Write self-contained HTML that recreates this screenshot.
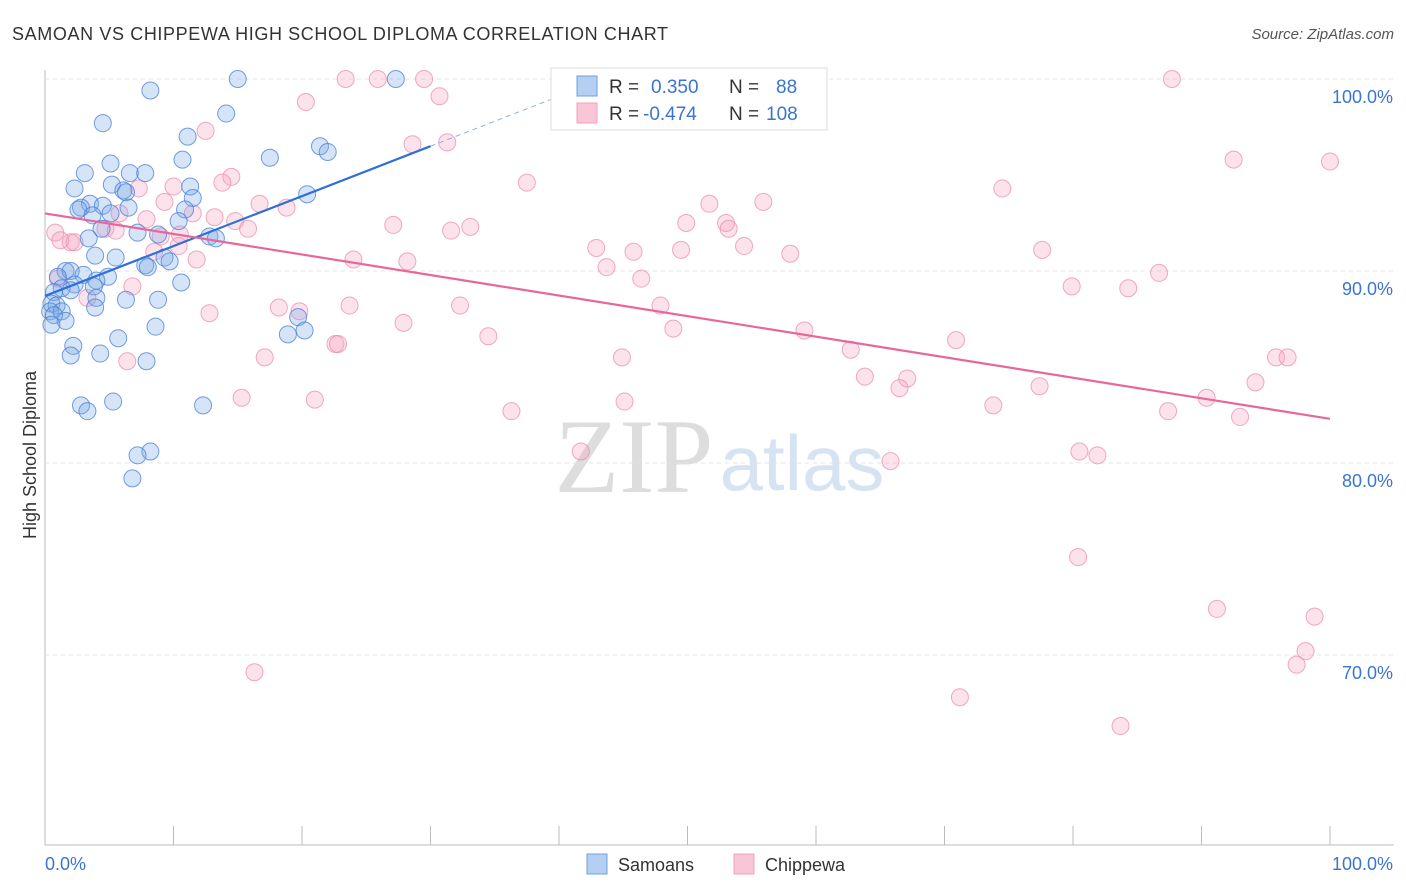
<!DOCTYPE html>
<html><head><meta charset="utf-8">
<style>
body{margin:0;background:#fff;font-family:"Liberation Sans",sans-serif;}
svg{display:block}
</style></head>
<body>
<svg id="chart" width="1406" height="892" xmlns="http://www.w3.org/2000/svg">
<text x="12" y="40" font-size="18" fill="#333" textLength="656" lengthAdjust="spacing">SAMOAN VS CHIPPEWA HIGH SCHOOL DIPLOMA CORRELATION CHART</text>
<text x="1394" y="39" font-size="15" font-style="italic" fill="#555" text-anchor="end">Source: ZipAtlas.com</text>
<text x="36" y="455" font-size="18" fill="#333" text-anchor="middle" transform="rotate(-90 36 455)">High School Diploma</text>
<g>
<text x="634" y="492" font-size="106" font-family="Liberation Serif,serif" fill="#ddd" text-anchor="middle">ZIP</text>
<text x="802" y="490" font-size="78" fill="#d6e3f3" text-anchor="middle">atlas</text>
</g>
<g id="grid"></g>
<g id="marks"></g>
<g>
<rect x="551" y="68" width="276" height="62" fill="#fff" stroke="#ddd"/>
<rect x="577" y="76" width="20" height="20" fill="#b5cff2" stroke="#6fa0e0"/>
<rect x="577" y="103" width="20" height="20" fill="#f8c6d7" stroke="#f0a0bc"/>
<text x="609" y="93" font-size="19" fill="#333">R =</text>
<text x="651" y="93" font-size="19" fill="#3a74d2">0.350</text>
<text x="729" y="93" font-size="19" fill="#333">N =</text>
<text x="776" y="93" font-size="19" fill="#3a74d2">88</text>
<text x="609" y="120" font-size="19" fill="#333">R =</text>
<text x="643" y="120" font-size="19" fill="#3a74d2">-0.474</text>
<text x="729" y="120" font-size="19" fill="#333">N =</text>
<text x="766" y="120" font-size="19" fill="#3a74d2">108</text>
</g>
<g>
<rect x="587" y="854" width="20" height="20" fill="#b5cff2" stroke="#6fa0e0"/>
<text x="618" y="871" font-size="18" fill="#333">Samoans</text>
<rect x="734" y="854" width="20" height="20" fill="#f8c6d7" stroke="#f0a0bc"/>
<text x="765" y="871" font-size="18" fill="#333">Chippewa</text>
</g>
</svg>
<script>
const yTicks=[100,90,80,70];
const yTickLabels=["100.0%","90.0%","80.0%","70.0%"];
const xTicks=[0,10,20,30,40,50,60,70,80,90,100];
const blueX=[15.0,27.3,8.2,14.1,4.5,11.1,21.4,22.0,17.5,10.7,5.1,3.1,6.6,7.8,5.2,11.3,2.3,6.1,6.3,20.4,11.5,3.5,4.5,2.8,6.5,2.6,10.9,5.1,3.7,10.4,4.4,7.2,8.8,3.4,12.8,13.3,3.9,5.5,9.3,9.7,7.8,8.0,1.6,2.0,1.0,3.0,4.9,4.0,10.6,2.3,3.8,1.3,2.0,0.7,4.0,6.3,8.8,0.5,0.9,3.9,0.4,1.3,0.7,1.6,0.5,19.7,8.6,20.2,18.9,5.7,2.2,4.3,2.0,7.9,5.3,2.8,3.3,12.3,8.2,7.2,6.8];
const blueY=[100,100,99.4,98.2,97.7,97.0,96.5,96.2,95.9,95.8,95.6,95.1,95.1,95.1,94.5,94.4,94.3,94.2,94.1,94.0,93.8,93.5,93.4,93.3,93.3,93.2,93.2,93.0,92.9,92.6,92.2,92.0,91.9,91.7,91.8,91.7,90.8,90.7,90.7,90.5,90.3,90.2,90.0,90.0,89.7,89.8,89.7,89.5,89.4,89.3,89.2,89.1,89.0,88.9,88.6,88.5,88.5,88.3,88.2,88.1,87.9,87.9,87.7,87.4,87.2,87.6,87.1,86.9,86.7,86.5,86.1,85.7,85.6,85.3,83.2,83.0,82.7,83.0,80.6,80.4,79.2];
const pinkX=[23.4,25.9,29.5,87.7,30.7,20.3,12.5,28.6,31.3,92.5,100,14.5,13.8,37.5,74.5,7.3,10.0,9.3,16.7,18.8,51.7,55.9,5.8,11.5,13.2,7.9,49.9,53.0,14.8,27.1,33.1,31.6,53.2,4.7,5.5,15.8,0.8,10.5,9.0,2.0,1.2,2.3,10.4,42.9,54.4,49.5,45.8,77.6,58.0,8.5,11.8,24.0,28.2,43.7,86.7,46.4,1.0,6.8,79.9,84.3,3.3,23.7,32.3,47.9,18.2,19.8,12.8,27.9,48.9,59.1,34.5,70.9,22.6,22.8,62.7,17.1,44.9,95.8,96.7,6.4,63.8,67.1,94.2,66.5,77.4,15.3,21.0,45.1,90.4,73.8,36.3,87.4,93.0,41.7,80.5,81.9,65.8,80.4,91.2,98.8,98.1,97.4,16.3,71.2,83.7];
const pinkY=[100,100,100,100,99.1,98.8,97.3,96.6,96.7,95.8,95.7,94.9,94.6,94.6,94.3,94.3,94.4,93.6,93.5,93.3,93.5,93.6,93.0,93.0,92.8,92.7,92.5,92.5,92.6,92.4,92.3,92.1,92.2,92.2,92.1,92.2,92.0,91.9,91.8,91.5,91.6,91.5,91.3,91.2,91.3,91.1,91.0,91.1,90.9,91.0,90.6,90.6,90.5,90.2,89.9,89.6,89.6,89.2,89.2,89.1,88.6,88.2,88.2,88.2,88.1,87.9,87.8,87.3,87.0,86.9,86.6,86.4,86.2,86.2,85.9,85.5,85.5,85.5,85.5,85.3,84.5,84.4,84.2,83.9,84.0,83.4,83.3,83.2,83.4,83.0,82.7,82.7,82.4,80.6,80.6,80.4,80.1,75.1,72.4,72.0,70.2,69.5,69.1,67.8,66.3];
const blueTrend=[88.7,96.5];   // y at x=0 and x=30
const pinkTrend=[93.0,82.3];   // y at x=0 and x=100

const NS="http://www.w3.org/2000/svg";
const sx=v=>45+v*12.85;
const sy=v=>79+(100-v)*19.2;
function mk(tag,attrs,parent){const e=document.createElementNS(NS,tag);for(const k in attrs)e.setAttribute(k,attrs[k]);parent.appendChild(e);return e;}
const grid=document.getElementById('grid'), marks=document.getElementById('marks');
mk('line',{x1:45,y1:70,x2:45,y2:845,stroke:'#bbb'},grid);
mk('line',{x1:45,y1:845,x2:1394,y2:845,stroke:'#bbb'},grid);
yTicks.forEach((t,i)=>{
  const l=mk('line',{x1:45,y1:sy(t),x2:1394,y2:sy(t),stroke:'#e3e3e3','stroke-dasharray':'4,4'},grid);
  
  
  const tx=mk('text',{x:1393,y:sy(t)+24,'font-size':18,fill:'#3a74d2','text-anchor':'end'},grid);
  tx.textContent=yTickLabels[i];
  
  
});
xTicks.forEach(t=>{
  const l=mk('line',{x1:sx(t),y1:826,x2:sx(t),y2:845,stroke:'#bbb'},grid);
  
  
});
const xl0=mk('text',{x:45,y:870,'font-size':18,fill:'#3a74d2'},grid);xl0.textContent='0.0%';


const xl1=mk('text',{x:1393,y:870,'font-size':18,fill:'#3a74d2','text-anchor':'end'},grid);xl1.textContent='100.0%';



pinkX.forEach((x,i)=>{
  const c=mk('circle',{cx:sx(x),cy:sy(pinkY[i]),r:8.5,fill:'rgba(244,160,190,0.3)',stroke:'rgba(236,140,176,0.75)','stroke-width':1},marks);
  
  
});
blueX.forEach((x,i)=>{
  const c=mk('circle',{cx:sx(x),cy:sy(blueY[i]),r:8.5,fill:'rgba(120,165,230,0.3)',stroke:'rgba(70,125,215,0.75)','stroke-width':1},marks);
  
  
});
const slopeB=(blueTrend[1]-blueTrend[0])/30;
const bl=mk('line',{x1:sx(0),y1:sy(blueTrend[0]),x2:sx(30),y2:sy(blueTrend[1]),stroke:'#2f6fd6','stroke-width':2.2},marks);


const bd=mk('line',{x1:sx(30),y1:sy(blueTrend[1]),x2:sx(42),y2:sy(blueTrend[0]+slopeB*42),stroke:'#8fb0e0','stroke-width':1,'stroke-dasharray':'5,4'},marks);


const pl=mk('line',{x1:sx(0),y1:sy(pinkTrend[0]),x2:sx(100),y2:sy(pinkTrend[1]),stroke:'#e8679a','stroke-width':2.2},marks);


</script>
</body></html>
